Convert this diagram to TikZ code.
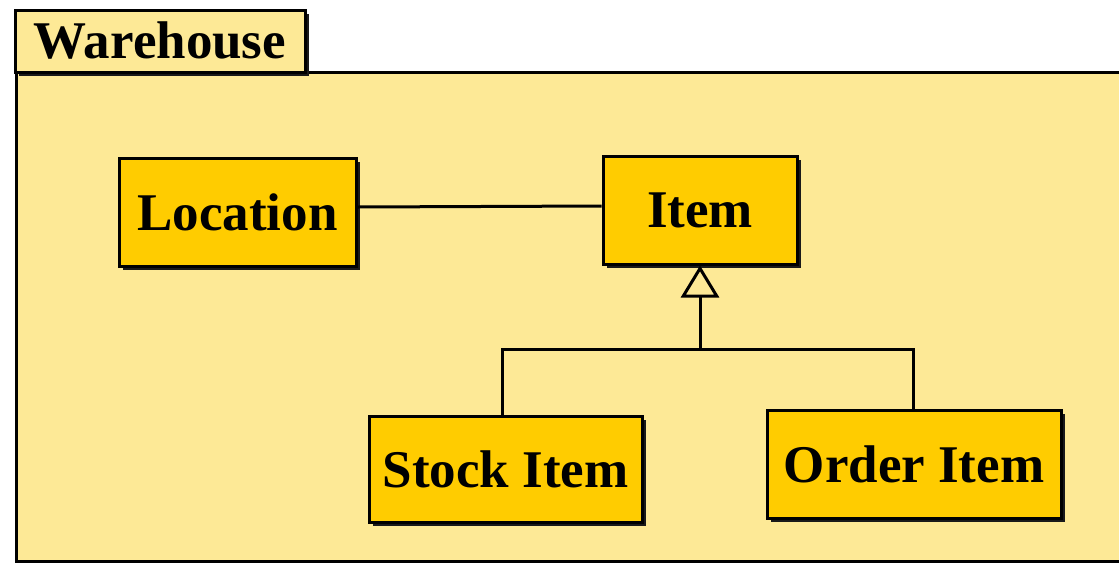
\documentclass[tikz,border=0pt]{standalone}
\usepackage{fontspec}
\setmainfont{Liberation Serif}
\usetikzlibrary{arrows.meta,shadows}
\definecolor{pkgfill}{HTML}{FDE996}
\definecolor{boxfill}{HTML}{FFCC00}
\tikzset{
  shad/.style={drop shadow={shadow xshift=4pt, shadow yshift=-4pt, fill=black!90, opacity=1}},
  cls/.style={draw=black, line width=3pt, fill=boxfill, shad, inner sep=0pt,
    font=\fontsize{53}{60}\selectfont\bfseries},
  conn/.style={draw=black, line width=3pt},
}
\begin{document}
\begin{tikzpicture}[x=1pt,y=-1pt]
\useasboundingbox (0,0) rectangle (1119,563);
\clip (0,0) rectangle (1119,563);
% package body
\path[draw=black, line width=3pt, fill=pkgfill] (16,72) rectangle (1140,561.5);
% tab
\node[draw=black, line width=3pt, fill=pkgfill, shad, minimum width=290pt, minimum height=62pt,
  inner sep=0pt, font=\fontsize{53}{60}\selectfont\bfseries] (tab) at (160,41) {Warehouse};
% classes
\node[cls, minimum width=237pt, minimum height=108pt] (loc) at (237.5,212) {Location};
\node[cls, minimum width=194pt, minimum height=108pt] (item) at (700,210) {Item};
\node[cls, minimum width=273pt, minimum height=106pt] (stock) at (505.5,469) {Stock Item};
\node[cls, minimum width=294pt, minimum height=108pt] (order) at (914,464) {Order Item};
% association
\draw[conn] ([yshift=5pt]loc.east) -- ([yshift=4pt]item.west);
% generalization
\coordinate (junc) at (700,349);
\draw[conn, -{Triangle[open, length=32pt, width=38pt, line width=3pt]}] (junc) -- (item.south);
\draw[conn] ([xshift=-3.5pt]stock.north) |- (junc) -| ([xshift=-1pt]order.north);
\end{tikzpicture}
\end{document}
